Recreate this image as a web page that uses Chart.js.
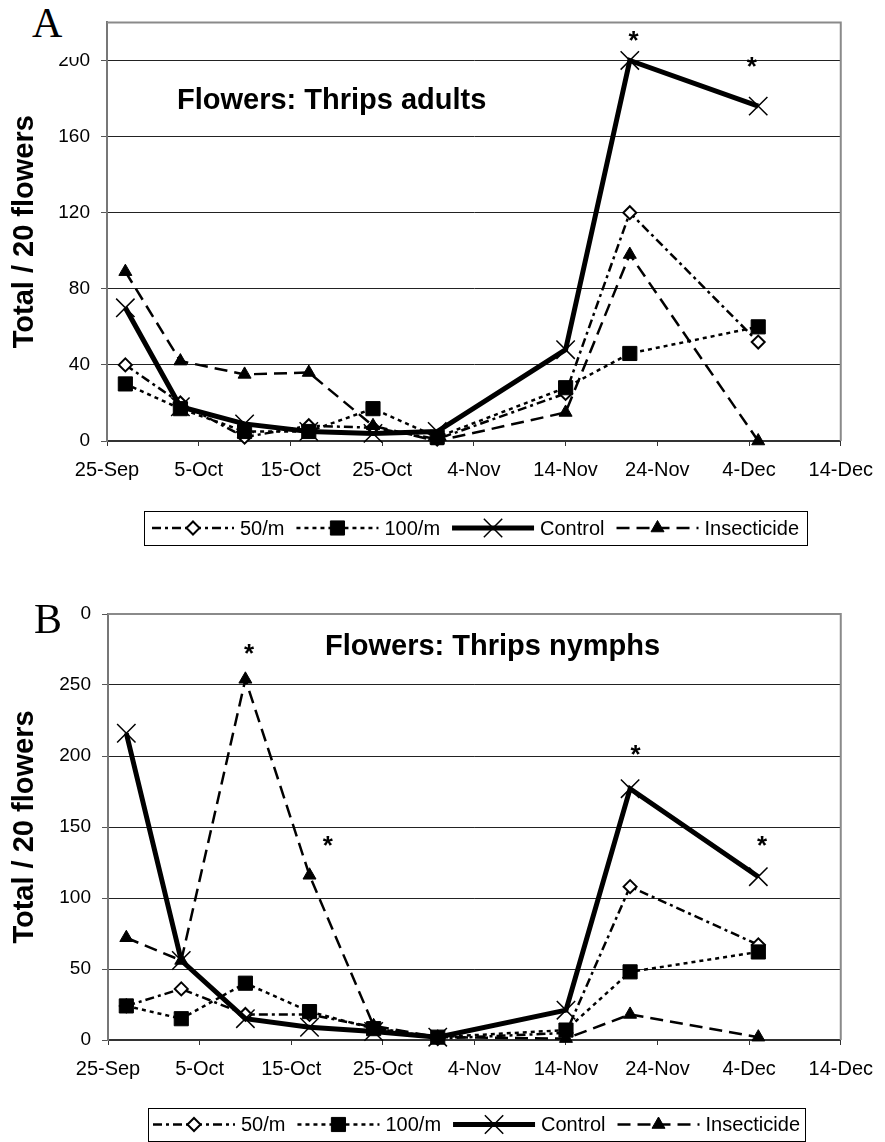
<!DOCTYPE html>
<html lang="en">
<head>
<meta charset="UTF-8">
<title>Thrips on flowers</title>
<script src="https://cdn.jsdelivr.net/npm/chart.js"></script>
<style>
  body { margin: 0; background: #fff; width: 885px; height: 1142px; position: relative; overflow: hidden; }
  .panel { position: absolute; left: 0; width: 885px; }
  .letter {
    position: absolute; background: #fff; box-sizing: border-box; z-index: 2;
    font-family: "Liberation Serif", "Times New Roman", serif; font-size: 42px; line-height: 42px;
  }
</style>
</head>
<body>
<div class="panel" style="top:0;height:560px"><canvas id="adults"></canvas></div>
<div class="panel" style="top:560px;height:582px"><canvas id="nymphs"></canvas></div>
<div class="letter" style="left:30px;top:0;width:50px;height:57px;padding:2px 0 0 2px">A</div>
<div class="letter" style="left:33px;top:598px;width:48px;height:38px;padding:0 0 0 1px">B</div>

<script>
// sampling dates, counted in days after 25-Sep
const sampleDays = [2, 8, 15, 22, 29, 36, 50, 57, 71];
const dateTicks = ['25-Sep', '5-Oct', '15-Oct', '25-Oct', '4-Nov', '14-Nov', '24-Nov', '4-Dec', '14-Dec'];
const seriesNames = ['50/m', '100/m', 'Control', 'Insecticide'];

// A: thrips adults, total per 20 flowers
const adults50 = [40, 20, 2, 8, 7, 1, 25, 120, 52];
const adults100 = [30, 17, 5, 5, 17, 2, 28, 46, 60];
const adultsControl = [70, 18, 9, 5, 4, 5, 48, 200, 176];
const adultsInsecticide = [89, 42, 35, 36, 8, 0, 15, 98, 0];
const adultsStarDays = [57.4, 70.3];
const adultsStarValues = [212, 198];

// B: thrips nymphs, total per 20 flowers
const nymphs50 = [24, 36, 18, 18, 9, 1, 5, 108, 67];
const nymphs100 = [24, 15, 40, 20, 8, 2, 7, 48, 62];
const nymphsControl = [216, 56, 15, 9, 6, 2, 21, 177, 115];
const nymphsInsecticide = [72, 56, 254, 116, 10, 2, 1, 18, 2];
const nymphsStarDays = [15.4, 24, 57.6, 71.4];
const nymphsStarValues = [274, 139, 203, 139];

const FONT = '"Liberation Sans", Arial, sans-serif';
Chart.defaults.font.family = FONT;
Chart.defaults.color = '#000';

// line + marker look for each treatment
const seriesStyles = [
  { dash: [9, 4, 3, 4], width: 2.5, point: 'rectRot', radius: 6.5, fill: '#fff', pointWidth: 2 },
  { dash: [4, 4], width: 2.5, point: 'rect', radius: 10, fill: '#000', pointWidth: 1 },
  { dash: [], width: 5, point: 'crossRot', radius: 13, fill: '#000', pointWidth: 1.5 },
  { dash: [13, 7], width: 2.5, point: 'triangle', radius: 7.5, fill: '#000', pointWidth: 1 }
];

function makeDatasets(seriesValues) {
  return seriesValues.map((vals, i) => {
    const s = seriesStyles[i];
    return {
      label: seriesNames[i],
      data: sampleDays.map((d, k) => ({ x: d, y: vals[k] })),
      borderColor: '#000',
      borderWidth: s.width,
      borderDash: s.dash,
      tension: 0,
      pointStyle: s.point,
      pointRadius: s.radius,
      pointBorderWidth: s.pointWidth,
      pointBackgroundColor: s.fill,
      pointBorderColor: '#000',
      order: 3 - i,
      clip: false
    };
  });
}

function drawLegend(ctx, box) {
  const sampleLen = 82, gapSample = 6, gapText = 12;
  ctx.font = '20px ' + FONT;
  const widths = seriesNames.map(n => ctx.measureText(n).width);
  const total = widths.reduce((a, b) => a + b, 0) + 4 * (sampleLen + gapSample) + 3 * gapText;
  const cy = box.top + box.height / 2;

  ctx.lineWidth = 1;
  ctx.strokeStyle = '#000';
  ctx.setLineDash([]);
  ctx.strokeRect(box.left + 0.5, box.top + 0.5, box.width, box.height);

  let x = box.left + (box.width - total) / 2;
  seriesNames.forEach((name, i) => {
    const s = seriesStyles[i];
    ctx.save();
    ctx.strokeStyle = '#000';
    ctx.lineWidth = s.width;
    ctx.setLineDash(s.dash);
    ctx.beginPath();
    ctx.moveTo(x, cy);
    ctx.lineTo(x + sampleLen, cy);
    ctx.stroke();
    // marker on top of the sample line
    ctx.setLineDash([]);
    ctx.lineWidth = s.pointWidth;
    ctx.fillStyle = s.fill;
    Chart.helpers.drawPoint(ctx, { pointStyle: s.point, radius: s.radius, borderWidth: s.pointWidth, rotation: 0 },
      x + sampleLen / 2, cy);
    ctx.restore();
    x += sampleLen + gapSample;
    ctx.fillStyle = '#000';
    ctx.textAlign = 'left';
    ctx.textBaseline = 'middle';
    ctx.fillText(name, x, cy + 1);
    x += widths[i] + gapText;
  });
}

const figurePlugin = {
  id: 'figure',
  afterDraw(chart, args, opts) {
    const { ctx, chartArea: a, scales: { x, y } } = chart;
    ctx.save();
    // plot frame on top and right
    ctx.strokeStyle = '#8a8a8a';
    ctx.lineWidth = 2;
    ctx.beginPath();
    ctx.moveTo(a.left, a.top);
    ctx.lineTo(a.right, a.top);
    ctx.lineTo(a.right, a.bottom);
    ctx.stroke();

    // panel heading inside the plot
    ctx.fillStyle = '#000';
    ctx.font = 'bold 29px ' + FONT;
    ctx.textAlign = 'left';
    ctx.textBaseline = 'alphabetic';
    ctx.fillText(opts.title, a.left + opts.titleDx, a.top + opts.titleDy);

    // significance stars
    ctx.font = 'bold 26px ' + FONT;
    ctx.textAlign = 'center';
    opts.starDays.forEach((d, i) => {
      ctx.fillText('*', x.getPixelForValue(d), y.getPixelForValue(opts.starValues[i]) + 11);
    });

    drawLegend(ctx, opts.legendBox);
    ctx.restore();
  }
};

function makeChart(id, cfg) {
  return new Chart(document.getElementById(id), {
    type: 'line',
    data: { datasets: makeDatasets(cfg.series) },
    options: {
      responsive: true,
      maintainAspectRatio: false,
      animation: false,
      devicePixelRatio: 1,
      layout: { padding: { top: cfg.padTop, right: cfg.padRight, left: 0, bottom: 0 } },
      plugins: {
        legend: { display: false },
        tooltip: { enabled: false },
        figure: {
          title: cfg.title, titleDx: cfg.titleDx, titleDy: cfg.titleDy,
          starDays: cfg.starDays, starValues: cfg.starValues,
          legendBox: cfg.legendBox
        }
      },
      scales: {
        x: {
          type: 'linear',
          min: 0, max: 80,
          afterFit: s => { s.height = cfg.xHeight; },
          grid: { drawOnChartArea: false, tickLength: 5, color: '#333', lineWidth: 1 },
          border: { color: '#333', width: 2 },
          ticks: {
            stepSize: 10, autoSkip: false, maxRotation: 0, padding: 12,
            font: { size: 20 },
            callback: v => dateTicks[v / 10] ?? ''
          }
        },
        y: {
          min: 0, max: cfg.yMax,
          afterFit: s => { s.width = cfg.yWidth; },
          afterBuildTicks: s => { s.ticks = s.ticks.filter(t => t.value <= cfg.yTop); },
          grid: { color: '#222', lineWidth: 1, tickLength: 6, tickColor: '#555' },
          border: { color: '#777', width: 2 },
          ticks: { stepSize: cfg.yStep, padding: 11, font: { size: 19 } },
          title: {
            display: true, text: 'Total / 20 flowers',
            font: { size: 29, weight: 'bold' }, padding: { top: 8, bottom: 0 }
          }
        }
      }
    },
    plugins: [figurePlugin]
  });
}

makeChart('adults', {
  series: [adults50, adults100, adultsControl, adultsInsecticide],
  title: 'Flowers: Thrips adults', titleDx: 70, titleDy: 87,
  starDays: adultsStarDays, starValues: adultsStarValues,
  yMax: 220, yTop: 200, yStep: 40,
  padTop: 21, padRight: 43, yWidth: 107, xHeight: 119,
  legendBox: { left: 144, top: 511, width: 663, height: 34 }
});

makeChart('nymphs', {
  series: [nymphs50, nymphs100, nymphsControl, nymphsInsecticide],
  title: 'Flowers: Thrips nymphs', titleDx: 217, titleDy: 41,
  starDays: nymphsStarDays, starValues: nymphsStarValues,
  yMax: 300, yTop: 300, yStep: 50,
  padTop: 54, padRight: 39, yWidth: 108, xHeight: 102,
  legendBox: { left: 148, top: 548, width: 657, height: 33 }
});
</script>
</body>
</html>
